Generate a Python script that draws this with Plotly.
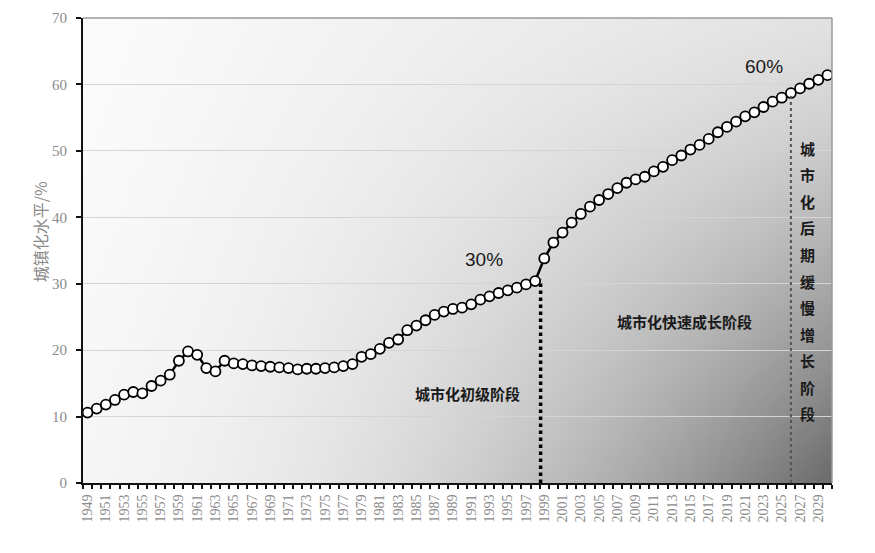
import base64
import struct
import zlib

import numpy as np
import plotly.graph_objects as go

# ---------------- data ----------------
years = list(range(1949, 2031))
urban_rate = [
    10.6, 11.2, 11.8, 12.5, 13.3, 13.7, 13.5, 14.6, 15.4, 16.3,   # 1949-1958
    18.4, 19.8, 19.3, 17.3, 16.8, 18.4, 18.0, 17.9, 17.7, 17.6,   # 1959-1968
    17.5, 17.4, 17.3, 17.1, 17.2, 17.2, 17.3, 17.4, 17.6, 17.9,   # 1969-1978
    19.0, 19.4, 20.2, 21.1, 21.6, 23.0, 23.7, 24.5, 25.3, 25.8,   # 1979-1988
    26.2, 26.4, 26.9, 27.6, 28.1, 28.6, 29.0, 29.4, 29.9, 30.4,   # 1989-1998
    33.8, 36.2, 37.7, 39.2, 40.5, 41.6, 42.6, 43.5, 44.4, 45.2,   # 1999-2008
    45.7, 46.1, 46.9, 47.6, 48.6, 49.3, 50.2, 50.9, 51.8, 52.8,   # 2009-2018
    53.6, 54.4, 55.2, 55.8, 56.6, 57.4, 58.0, 58.7, 59.4, 60.1,   # 2019-2028
    60.7, 61.4,                                                   # 2029-2030
]
y_ticks = [0, 10, 20, 30, 40, 50, 60, 70]
y_title = "城镇化水平/%"
stage1 = "城市化初级阶段"
stage2 = "城市化快速成长阶段"
stage3 = "城市化后期缓慢增长阶段"
mark30 = "30%"
mark60 = "60%"
split1_year, split1_val = 1998.6, 30.6
split2_year, split2_val = 2026, 58.7

# ---------------- gradient background (style only) ----------------
W, H = 160, 100
u = np.linspace(0, 1, W)[None, :]
v = np.linspace(0, 1, H)[:, None]
g = 252 - 26 * u - 6 * v - 112 * (u ** 2.2) * (v ** 1.3)
g = np.clip(g, 0, 255).astype(np.uint8)


def png_gray(arr):
    h, w = arr.shape
    raw = b"".join(b"\x00" + arr[i].tobytes() for i in range(h))

    def chunk(tag, data):
        c = struct.pack(">I", len(data)) + tag + data
        return c + struct.pack(">I", zlib.crc32(tag + data) & 0xFFFFFFFF)

    return (b"\x89PNG\r\n\x1a\n"
            + chunk(b"IHDR", struct.pack(">IIBBBBB", w, h, 8, 0, 0, 0, 0))
            + chunk(b"IDAT", zlib.compress(raw, 9))
            + chunk(b"IEND", b""))


bg_src = "data:image/png;base64," + base64.b64encode(png_gray(g)).decode()

# ---------------- figure ----------------
fig = go.Figure()
fig.add_trace(go.Scatter(
    x=years, y=urban_rate, mode="lines+markers",
    line=dict(color="#000000", width=2.5),
    marker=dict(symbol="circle", size=10, color="#ffffff",
                line=dict(color="#000000", width=1.8)),
    showlegend=False, hoverinfo="x+y",
))

tick_font = dict(family="Liberation Serif, DejaVu Serif, serif", size=14, color="#8a8a8a")

fig.update_layout(
    width=875, height=553,
    margin=dict(l=75, r=51, t=10, b=78, autoexpand=False),
    paper_bgcolor="#ffffff",
    plot_bgcolor="rgba(0,0,0,0)",
    images=[dict(source=bg_src, xref="x domain", yref="y domain", x=0, y=1,
                 sizex=1, sizey=1, xanchor="left", yanchor="top",
                 sizing="stretch", layer="below")],
    xaxis=dict(
        range=[1948.5, 2030.5], tick0=1949, dtick=2, tickangle=-90,
        ticks="", showgrid=False, zeroline=False, automargin=False,
        showline=True, linecolor="#111111", linewidth=2,
        tickfont=tick_font, ticklabelstandoff=4,
        minor=dict(tick0=1948.5, dtick=1, ticks="outside", ticklen=4,
                   tickcolor="#111111", tickwidth=1.5, showgrid=False),
    ),
    yaxis=dict(
        range=[0, 70], tickvals=y_ticks, ticks="outside", ticklen=5,
        tickcolor="#111111", tickwidth=1.5, automargin=False,
        showgrid=True, gridcolor="#d4d4d4", gridwidth=1, zeroline=False,
        showline=True, linecolor="#111111", linewidth=2,
        tickfont=dict(family="Liberation Serif, DejaVu Serif, serif", size=15, color="#8a8a8a"),
        ticklabelstandoff=6,
    ),
)

# frame: top and right edges
fig.add_shape(type="line", xref="x domain", yref="y domain", x0=0, x1=1, y0=1, y1=1,
              line=dict(color="#9a9a9a", width=1.5))
fig.add_shape(type="line", xref="x domain", yref="y domain", x0=1, x1=1, y0=0, y1=1,
              line=dict(color="#9a9a9a", width=1.5))

# stage split lines
fig.add_shape(type="line", x0=split1_year, x1=split1_year, y0=0, y1=split1_val,
              line=dict(color="#000000", width=3.5, dash="dot"))
fig.add_shape(type="line", x0=split2_year, x1=split2_year, y0=0, y1=split2_val,
              line=dict(color="#555555", width=2, dash="dot"))

cjk = "Noto Sans CJK SC"
fig.add_annotation(text=y_title, xref="paper", yref="paper", x=-0.057, y=0.54,
                   xanchor="center", yanchor="middle",
                   textangle=-90, showarrow=False,
                   font=dict(family=cjk, size=16, color="#8a8a8a"))
fig.add_annotation(text=stage1, x=1990.6, y=13.4, showarrow=False,
                   font=dict(family=cjk, size=15, color="#1a1a1a", weight="bold"))
fig.add_annotation(text=stage2, x=2014.4, y=24.3, showarrow=False,
                   font=dict(family=cjk, size=15, color="#1a1a1a", weight="bold"))
for i, ch in enumerate(stage3):
    fig.add_annotation(text=ch, x=2027.8, y=50.4 - i * 4.0, showarrow=False,
                       font=dict(family=cjk, size=15, color="#1a1a1a", weight="bold"))
fig.add_annotation(text=mark30, x=1992.4, y=33.6, showarrow=False,
                   font=dict(family="Liberation Sans, Arial, sans-serif", size=19, color="#1a1a1a"))
fig.add_annotation(text=mark60, x=2023.1, y=62.7, showarrow=False,
                   font=dict(family="Liberation Sans, Arial, sans-serif", size=19, color="#1a1a1a"))

fig.write_html("out.html")
